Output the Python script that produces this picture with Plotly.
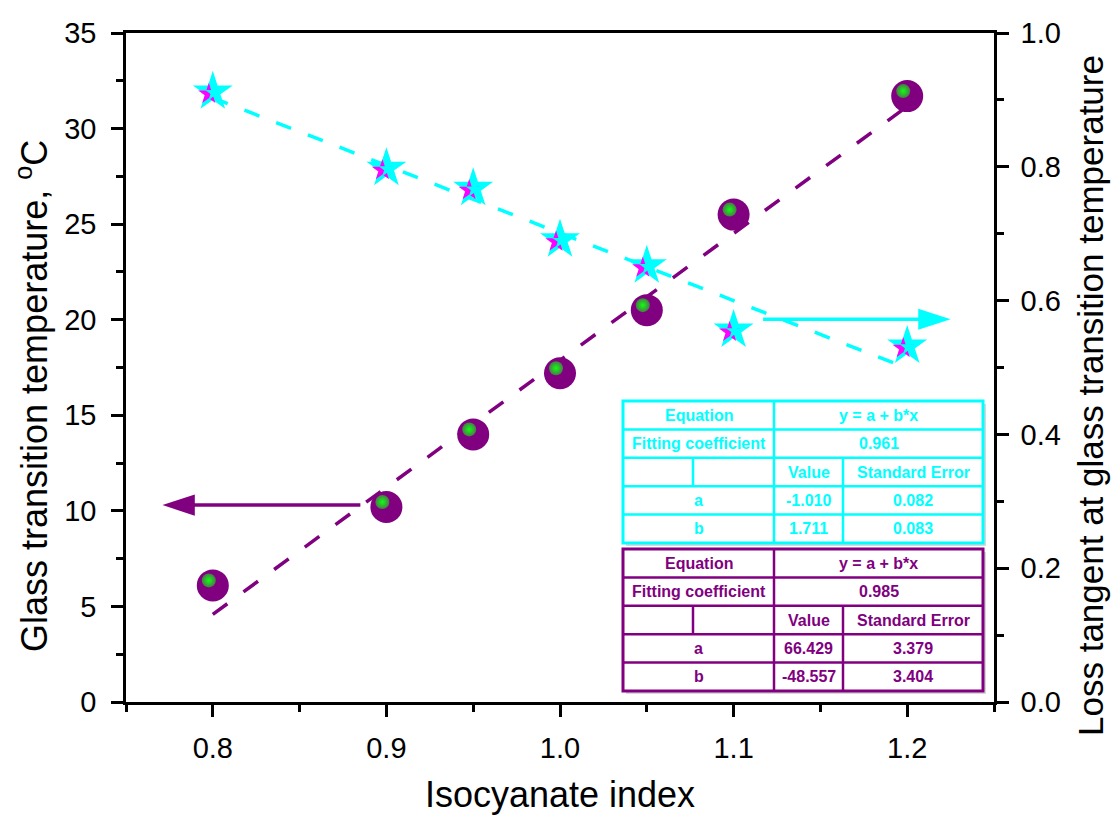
import plotly.graph_objects as go

# ---------------- data ----------------
iso_index = [0.8, 0.9, 0.95, 1.0, 1.05, 1.1, 1.2]
tg_values = [6.1, 10.2, 14.0, 17.2, 20.5, 25.5, 31.7]          # left axis, deg C
tan_delta = [0.912, 0.798, 0.768, 0.691, 0.652, 0.556, 0.532]  # right axis

x_tick_vals = [0.8, 0.9, 1.0, 1.1, 1.2]

# fit tables (text as printed)
table_equation = "y = a + b*x"
table_row_labels = ["Equation", "Fitting coefficient", "", "a", "b"]
table_col_headers = ["Value", "Standard Error"]
cyan_r = "0.961"
cyan_values = ["-1.010", "1.711"]
cyan_errors = ["0.082", "0.083"]
purple_r = "0.985"
purple_values = ["66.429", "-48.557"]
purple_errors = ["3.379", "3.404"]

# fitted lines as drawn (slope, intercept)
tan_fit_slope, tan_fit_intercept = -1.010, 1.711
tg_fit_slope, tg_fit_intercept = 66.429, -48.557
fit_x = [0.8, 1.2]

# direction arrows: (tail x, head x, y)
tg_arrow = (0.885, 0.771, 10.3)
tan_arrow = (1.117, 1.225, 0.572)

# ---------------- style / layout ----------------
W, H = 1112, 815
ML, MR, MT, MB = 126, 118, 33, 113
PW, PH = W - ML - MR, H - MT - MB
XR = [0.75, 1.25]
YR = [0, 35]
Y2R = [0, 1]
PURPLE = "#800080"
CYAN = "#00FFFF"
MAGENTA = "#FF00FF"
FONT = "Arial, Liberation Sans, sans-serif"

dx_px = (XR[1] - XR[0]) / PW
dy_px = (YR[1] - YR[0]) / PH
dy2_px = (Y2R[1] - Y2R[0]) / PH


def px_x(p):
    return (p - ML) / PW


def px_y(p):
    return (H - MB - p) / PH


fig = go.Figure()

# fit lines
fig.add_trace(go.Scatter(
    x=fit_x, y=[tg_fit_intercept + tg_fit_slope * v for v in fit_x],
    mode="lines", line=dict(color=PURPLE, width=3.5, dash="18px,20px"),
    showlegend=False, hoverinfo="skip"))
fig.add_trace(go.Scatter(
    x=fit_x, y=[tan_fit_intercept + tan_fit_slope * v for v in fit_x],
    yaxis="y2",
    mode="lines", line=dict(color=CYAN, width=3.5, dash="16px,18px"),
    showlegend=False, hoverinfo="skip"))

# direction arrows (line + arrow-head marker at the head)
fig.add_trace(go.Scatter(
    x=[tg_arrow[0], tg_arrow[1]], y=[tg_arrow[2], tg_arrow[2]],
    mode="lines+markers", line=dict(color=PURPLE, width=3.5),
    marker=dict(symbol=["circle", "arrow"], size=[0, 34], angleref="previous",
                color=PURPLE, opacity=1, line=dict(width=0)),
    showlegend=False, hoverinfo="skip"))
fig.add_trace(go.Scatter(
    x=[tan_arrow[0], tan_arrow[1]], y=[tan_arrow[2], tan_arrow[2]], yaxis="y2",
    mode="lines+markers", line=dict(color=CYAN, width=3.5),
    marker=dict(symbol=["circle", "arrow"], size=[0, 34], angleref="previous",
                color=CYAN, opacity=1, line=dict(width=0)),
    showlegend=False, hoverinfo="skip"))

# purple balls
fig.add_trace(go.Scatter(
    x=iso_index, y=tg_values, mode="markers", name="Tg",
    marker=dict(symbol="circle", size=32, color=PURPLE, line=dict(width=0)),
    showlegend=False))
fig.add_trace(go.Scatter(
    x=[v - 4 * dx_px for v in iso_index], y=[v + 5 * dy_px for v in tg_values],
    mode="markers", hoverinfo="skip", showlegend=False,
    marker=dict(symbol="circle", size=14, color="#4a7a4a", line=dict(width=0),
                gradient=dict(type="radial", color="#10ff10"))))

# cyan stars with magenta shading
fig.add_trace(go.Scatter(
    x=iso_index, y=tan_delta, mode="markers", yaxis="y2", name="tan delta",
    marker=dict(symbol="star", size=30, color=CYAN, line=dict(width=0)),
    showlegend=False))
fig.add_trace(go.Scatter(
    x=[v - 4 * dx_px for v in iso_index], y=[v - 2 * dy2_px for v in tan_delta],
    mode="markers", yaxis="y2", hoverinfo="skip", showlegend=False,
    marker=dict(symbol="star", size=16, color=MAGENTA, line=dict(width=0))))
fig.add_trace(go.Scatter(
    x=[v + 1 * dx_px for v in iso_index], y=[v - 1 * dy2_px for v in tan_delta],
    mode="markers", yaxis="y2", hoverinfo="skip", showlegend=False,
    marker=dict(symbol="star", size=13, color=CYAN, line=dict(width=0))))

annotations = []
shapes = []

# tables
col_x = [623, 693, 774, 843, 983]


def add_table(top, bottom, color, r_text, values, errors):
    rows = 5
    rh = (bottom - top) / rows
    ys = [top + i * rh for i in range(rows + 1)]
    shapes.append(dict(type="rect", xref="paper", yref="paper",
                       x0=px_x(col_x[0] + 3), x1=px_x(col_x[-1] + 3),
                       y0=px_y(top + 3), y1=px_y(bottom + 3),
                       fillcolor="#d8d8d8", line=dict(width=0), layer="above"))
    shapes.append(dict(type="rect", xref="paper", yref="paper",
                       x0=px_x(col_x[0]), x1=px_x(col_x[-1]),
                       y0=px_y(top), y1=px_y(bottom),
                       fillcolor="white", line=dict(color=color, width=3), layer="above"))
    for y in ys[1:-1]:
        shapes.append(dict(type="line", xref="paper", yref="paper",
                           x0=px_x(col_x[0]), x1=px_x(col_x[-1]), y0=px_y(y), y1=px_y(y),
                           line=dict(color=color, width=2.5), layer="above"))
    shapes.append(dict(type="line", xref="paper", yref="paper",
                       x0=px_x(col_x[2]), x1=px_x(col_x[2]), y0=px_y(top), y1=px_y(bottom),
                       line=dict(color=color, width=2.5), layer="above"))
    shapes.append(dict(type="line", xref="paper", yref="paper",
                       x0=px_x(col_x[3]), x1=px_x(col_x[3]), y0=px_y(ys[2]), y1=px_y(bottom),
                       line=dict(color=color, width=2.5), layer="above"))
    shapes.append(dict(type="line", xref="paper", yref="paper",
                       x0=px_x(col_x[1]), x1=px_x(col_x[1]), y0=px_y(ys[2]), y1=px_y(ys[3]),
                       line=dict(color=color, width=2.5), layer="above"))

    def cell(text, xa, xb, row):
        annotations.append(dict(
            x=px_x((xa + xb) / 2), y=px_y((ys[row] + ys[row + 1]) / 2),
            xref="paper", yref="paper", text="<b>%s</b>" % text, showarrow=False,
            xanchor="center", yanchor="middle",
            font=dict(family=FONT, size=16, color=color)))

    cell(table_row_labels[0], col_x[0], col_x[2], 0)
    cell(table_equation, col_x[2], col_x[4], 0)
    cell(table_row_labels[1], col_x[0], col_x[2], 1)
    cell(r_text, col_x[2], col_x[4], 1)
    cell(table_col_headers[0], col_x[2], col_x[3], 2)
    cell(table_col_headers[1], col_x[3], col_x[4], 2)
    for i in range(2):
        cell(table_row_labels[3 + i], col_x[0], col_x[2], 3 + i)
        cell(values[i], col_x[2], col_x[3], 3 + i)
        cell(errors[i], col_x[3], col_x[4], 3 + i)


add_table(401, 543, CYAN, cyan_r, cyan_values, cyan_errors)
add_table(549, 691, PURPLE, purple_r, purple_values, purple_errors)

# y-axis titles as rotated annotations (placed as in the original figure)
annotations.append(dict(
    x=px_x(32), y=px_y(396), xref="paper", yref="paper", textangle=-90,
    text="Glass transition temperature, <sup>o</sup>C", showarrow=False,
    xanchor="center", yanchor="middle", font=dict(family=FONT, size=36, color="black")))
annotations.append(dict(
    x=px_x(1090), y=px_y(396), xref="paper", yref="paper", textangle=-90,
    text="Loss tangent at glass transition temperature", showarrow=False,
    xanchor="center", yanchor="middle", font=dict(family=FONT, size=35, color="black")))

axis_common = dict(
    showgrid=False, zeroline=False, showline=True, linecolor="black", linewidth=2.5,
    ticks="outside", ticklen=12, tickwidth=2.5, tickcolor="black",
    tickfont=dict(family=FONT, size=29, color="black"), automargin=False,
)

fig.update_layout(
    width=W, height=H, autosize=False,
    margin=dict(l=ML, r=MR, t=MT, b=MB, pad=0),
    paper_bgcolor="white", plot_bgcolor="white",
    showlegend=False,
    xaxis=dict(range=XR, tickvals=x_tick_vals, tickformat=".1f", mirror=True,
               minor=dict(tick0=0.75, dtick=0.05, ticklen=7, tickwidth=2.5,
                          tickcolor="black", ticks="outside"),
               title=dict(text="Isocyanate index", standoff=22,
                          font=dict(family=FONT, size=36, color="black")),
               ticklabelstandoff=6,
               **axis_common),
    yaxis=dict(range=YR, tick0=0, dtick=5,
               minor=dict(tick0=0, dtick=2.5, ticklen=7, tickwidth=2.5,
                          tickcolor="black", ticks="outside"),
               ticklabelstandoff=9,
               **axis_common),
    yaxis2=dict(range=Y2R, tick0=0, dtick=0.2, tickformat=".1f", overlaying="y",
                side="right", anchor="x",
                minor=dict(tick0=0, dtick=0.1, ticklen=7, tickwidth=2.5,
                           tickcolor="black", ticks="outside"),
                ticklabelstandoff=6,
                **axis_common),
    annotations=annotations,
    shapes=shapes,
)

fig.write_html(
    "out.html",
    config={"displayModeBar": False},
    post_script="document.body.style.margin='0';document.body.style.overflow='hidden';",
)
